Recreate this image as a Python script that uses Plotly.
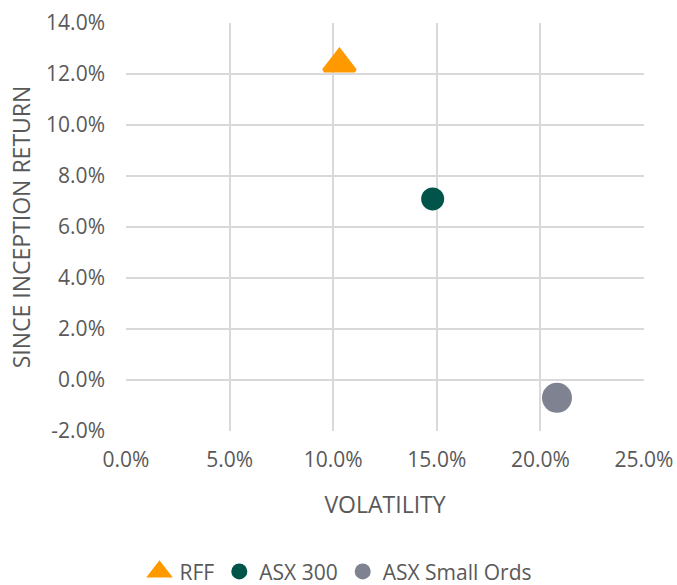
import plotly.graph_objects as go

series = ["RFF", "ASX 300", "ASX Small Ords"]
volatility = [0.103, 0.148, 0.208]
returns = [0.124, 0.071, -0.007]
colors = ["#FF9900", "#00544A", "#7F8391"]
symbols = ["triangle-up", "circle", "circle"]
sizes = [27, 23, 30]

x_tickvals = [0, 0.05, 0.10, 0.15, 0.20, 0.25]
x_ticktext = ["0.0%", "5.0%", "10.0%", "15.0%", "20.0%", "25.0%"]
y_tickvals = [-0.02, 0, 0.02, 0.04, 0.06, 0.08, 0.10, 0.12, 0.14]
y_ticktext = ["-2.0%", "0.0%", "2.0%", "4.0%", "6.0%", "8.0%", "10.0%", "12.0%", "14.0%"]

FONT = "Open Sans"
GREY = "#595959"

fig = go.Figure()
for name, x, y, c, s, sz in zip(series, volatility, returns, colors, symbols, sizes):
    fig.add_trace(go.Scatter(
        x=[x], y=[y], mode="markers", name=name,
        marker=dict(symbol=s, size=sz, color=c,
                    line=dict(color=c, width=4 if s == "triangle-up" else 0)),
    ))

fig.update_layout(
    width=677, height=585,
    margin=dict(l=126, r=33, t=23, b=154, autoexpand=False),
    paper_bgcolor="white", plot_bgcolor="white",
    font=dict(family=FONT, color=GREY, size=21),
    showlegend=True,
    legend=dict(orientation="h", xref="container", x=0.5, xanchor="center",
                y=-0.345, yanchor="middle",
                font=dict(size=21, color=GREY), itemsizing="trace",
                tracegroupgap=0, itemwidth=30),
    xaxis=dict(range=[0, 0.25], tickvals=x_tickvals, ticktext=x_ticktext,
               showgrid=True, gridcolor="#D9D9D9", gridwidth=1.5,
               zeroline=False, showline=False, ticks="", automargin=False,
               ticklabelstandoff=14,
               title=dict(text="VOLATILITY", standoff=24, font=dict(size=23, color=GREY))),
    yaxis=dict(range=[-0.02, 0.14], tickvals=y_tickvals, ticktext=y_ticktext,
               showgrid=True, gridcolor="#D9D9D9", gridwidth=1.5,
               zeroline=False, showline=False, ticks="", automargin=False,
               ticklabelstandoff=20,
               title=dict(text="SINCE INCEPTION RETURN", standoff=9, font=dict(size=23, color=GREY))),
)

fig.write_html("out.html")
